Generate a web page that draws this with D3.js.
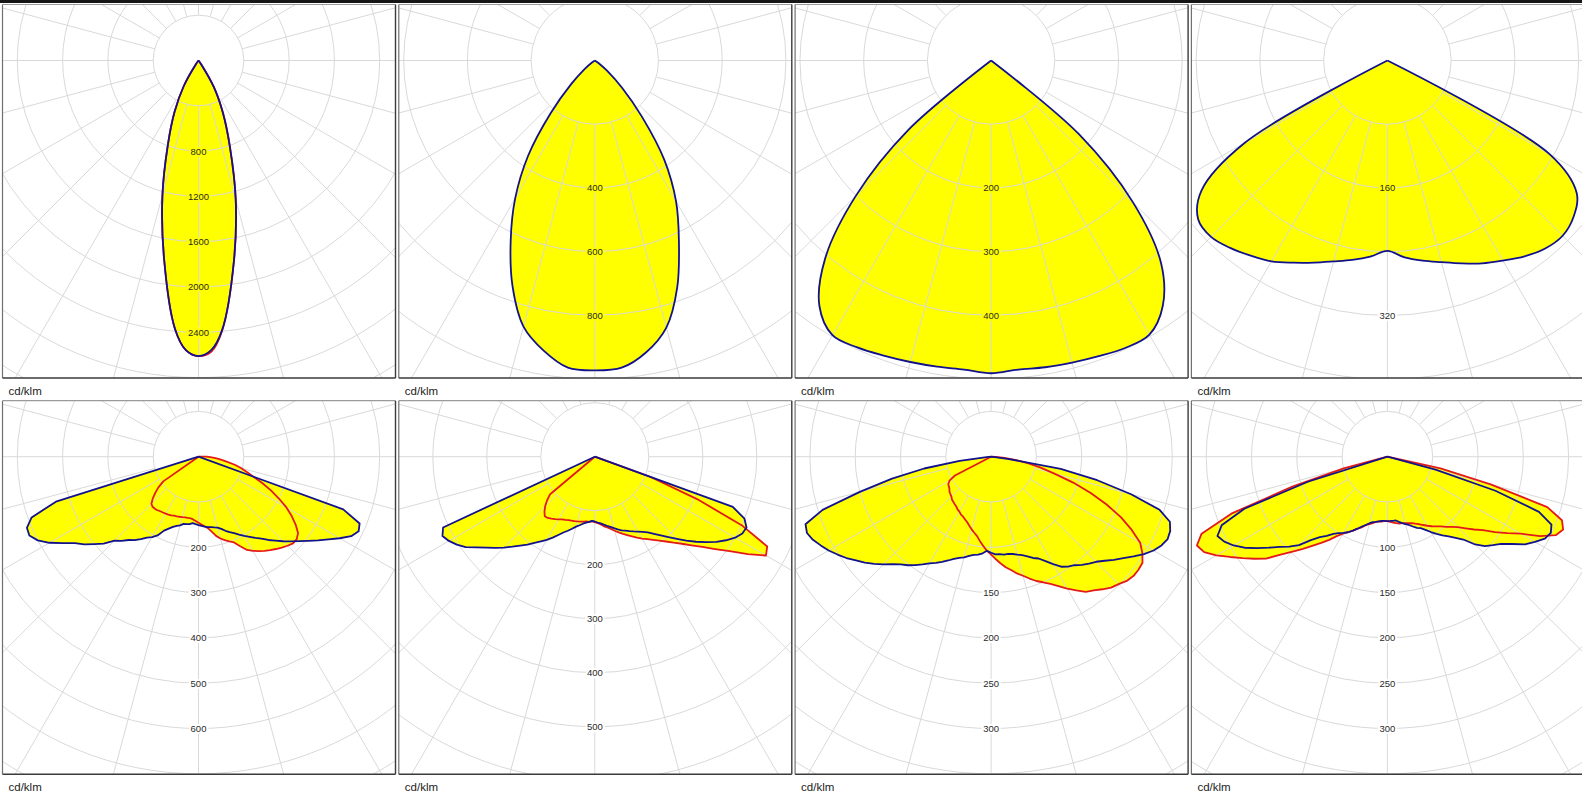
<!DOCTYPE html>
<html>
<head>
<meta charset="utf-8">
<script src="https://cdn.jsdelivr.net/npm/d3@7"></script>
<style>
  body { margin: 0; background: #fff; }
  svg { display: block; }
</style>
</head>
<body>
<svg id="chart" width="1582" height="794"></svg>
<script>
// Luminous intensity distributions, cd/klm, as [gamma angle in degrees, intensity].
// Negative gamma = C180 side (left half), positive = C0 side (right half).
// Blue = C0-C180 plane, red = C90-C270 plane.

// Panel 1 - narrow beam
const blue1 = [[-40,0],[-35,40],[-30,260],[-25,500],[-20,790],[-15,1230],[-10,1760],[-5,2380],[-2.5,2560],[0,2610],[2.5,2560],[5,2390],[10,1800],[15,1270],[20,810],[25,510],[30,270],[35,45],[40,0]];
const red1  = [[-40,0],[-35,40],[-30,260],[-25,500],[-20,790],[-15,1230],[-10,1760],[-5,2380],[-2.5,2560],[0,2610],[2.5,2575],[5,2395],[10,1800],[15,1270],[20,810],[25,510],[30,270],[35,45],[40,0]];
const rings1 = { step: 400, labels: [800, 1200, 1600, 2000, 2400] };

// Panel 2 - medium beam
const blue2 = [[-60,0],[-55,12],[-50,42],[-45,105],[-40,215],[-35,365],[-30,500],[-25,625],[-20,755],[-15,865],[-10,925],[-5,968],[0,973],[5,968],[10,930],[15,868],[20,757],[25,625],[30,510],[35,380],[40,230],[45,120],[50,50],[55,15],[60,0]];
const rings2 = { step: 200, labels: [400, 600, 800] };

// Panel 3 - wide beam
const blue3 = [[-55,0],[-50,170],[-45,300],[-40,405],[-35,470],[-30,498],[-25,497],[-20,493],[-15,490],[-10,488],[-5,487],[0,491],[5,487],[10,489],[15,491],[20,494],[25,498],[30,497],[35,470],[40,415],[45,315],[50,180],[55,0]];
const rings3 = { step: 100, labels: [200, 300, 400] };

// Panel 4 - batwing
const blue4 = [[-65,0],[-60,207],[-55,285],[-50,310],[-45,313],[-40,307],[-35,299],[-30,291],[-25,280],[-20,270],[-15,261],[-10,254],[-5,247],[0,239],[5,248],[10,255],[15,262],[20,271],[25,281],[30,290],[35,300],[40,308],[45,311],[50,305],[55,290],[60,235],[65,0]];
const rings4 = { step: 80, labels: [160, 320] };

// Panel 5 - street optic, asymmetric
const blue5 = [[-75,0],[-72.5,330],[-70,392],[-67.5,410],[-65,412],[-62.5,400],[-60,380],[-57.5,355],[-55,333],[-52.5,318],[-50,300],[-47.5,284],[-45,262],[-42.5,252],[-40,240],[-37.5,232],[-35,222],[-32.5,212],[-30,205],[-27.5,196],[-25,180],[-22.5,172],[-20,165],[-17.5,160],[-15,157],[-12.5,152],[-10,151],[-7.5,150],[-5,147],[-2.5,149],[0,151],[2.5,153],[5,155],[7.5,157],[10,158],[12.5,160],[15,162],[17.5,167],[20,174],[22.5,180],[25,186],[27.5,194],[30,202],[32.5,210],[35,219],[37.5,228],[40,240],[42.5,251],[45,264],[47.5,277],[50,290],[52.5,305],[55,322],[57.5,340],[60,360],[62.5,380],[65,390],[67.5,385],[70,340],[72.5,0]];
const red5 = [[-57.5,0],[-55,95],[-52.5,112],[-50,125],[-47.5,137],[-45,147],[-42.5,150],[-40,150],[-37.5,149],[-35,147],[-32.5,146],[-30,145],[-27.5,144],[-25,143],[-22.5,141],[-20,140],[-17.5,139],[-15,138],[-12.5,137],[-10,137],[-7.5,137],[-5,139],[-2.5,142],[0,146],[2.5,150],[5,154],[7.5,159],[10,168],[12.5,179],[15,187],[17.5,193],[20,199],[22.5,205],[25,218],[27.5,232],[30,240],[32.5,247],[35,254],[37.5,260],[40,266],[42.5,272],[45,278],[47.5,283],[50,283],[52.5,277],[55,262],[57.5,244],[60,224],[62.5,200],[65,177],[67.5,153],[70,129],[72.5,112],[75,97],[77.5,82],[80,63],[82.5,50],[85,38],[87.5,26],[90,18],[92.5,0]];
const rings5 = { step: 100, labels: [200, 300, 400, 500, 600] };

// Panel 6
const blue6 = [[-67.5,0],[-65,310],[-62.5,318],[-60,312],[-57.5,303],[-55,292],[-52.5,276],[-50,262],[-47.5,250],[-45,238],[-42.5,226],[-40,215],[-37.5,205],[-35,195],[-32.5,186],[-30,178],[-27.5,169],[-25,160],[-22.5,152],[-20,146],[-17.5,140],[-15,134],[-12.5,130],[-10,126],[-7.5,123],[-5,121],[-2.5,119],[0,120],[2.5,122],[5,124],[7.5,127],[10,130],[12.5,133],[15,137],[17.5,141],[20,145],[22.5,148],[25,152],[27.5,156],[30,160],[32.5,165],[35,171],[37.5,180],[40,190],[42.5,202],[45,215],[47.5,230],[50,245],[52.5,260],[55,275],[57.5,288],[60,300],[62.5,308],[65,310],[67.5,300],[70,272],[72.5,0]];
const red6 = [[-52.5,0],[-50,108],[-47.5,120],[-45,130],[-42.5,138],[-40,144],[-37.5,143],[-35,140],[-32.5,137],[-30,134],[-27.5,131],[-25,129],[-22.5,127],[-20,126],[-17.5,125],[-15,124],[-12.5,123],[-10,122],[-7.5,121],[-5,121],[-2.5,120],[0,121],[2.5,123],[5,126],[7.5,130],[10,133],[12.5,137],[15,142],[17.5,147],[20,152],[22.5,157],[25,163],[27.5,169],[30,175],[32.5,181],[35,188],[37.5,196],[40,205],[42.5,216],[45,228],[47.5,243],[50,260],[52.5,281],[55,305],[57.5,336],[60,366],[62.5,360],[65,300],[67.5,205],[70,110],[72.5,0]];
const rings6 = { step: 100, labels: [200, 300, 400, 500] };

// Panel 7
const blue7 = [[-87.5,0],[-85,5],[-82.5,35],[-80,75],[-77.5,112],[-75,150],[-72.5,195],[-70,218],[-67.5,220],[-65,217],[-62.5,212],[-60,207],[-57.5,201],[-55,195],[-52.5,188],[-50,182],[-47.5,175],[-45,168],[-42.5,161],[-40,155],[-37.5,151],[-35,146],[-32.5,141],[-30,136],[-27.5,132],[-25,128],[-22.5,124],[-20,120],[-17.5,117],[-15,115],[-12.5,112],[-10,110],[-7.5,109],[-5,107],[-2.5,104],[0,106],[2.5,108],[5,108],[7.5,109],[10,109],[12.5,110],[15,112],[17.5,114],[20,117],[22.5,121],[25,124],[27.5,130],[30,137],[32.5,144],[35,148],[37.5,151],[40,156],[42.5,160],[45,164],[47.5,170],[50,177],[52.5,184],[55,192],[57.5,200],[60,207],[62.5,212],[65,215],[67.5,214],[70,210],[72.5,195],[75,160],[77.5,120],[80,78],[82.5,20],[85,0]];
const red7 = [[-65,0],[-62.5,45],[-60,53],[-57.5,56],[-55,57],[-52.5,58],[-50,60],[-47.5,61],[-45,62],[-42.5,64],[-40,65],[-37.5,66],[-35,67],[-32.5,69],[-30,70],[-27.5,72],[-25,73],[-22.5,75],[-20,77],[-17.5,80],[-15,83],[-12.5,86],[-10,89],[-7.5,94],[-5,99],[-2.5,104],[0,108],[2.5,113],[5,118],[7.5,123],[10,127],[12.5,132],[15,136],[17.5,141],[20,146],[22.5,150],[25,155],[27.5,161],[30,168],[32.5,175],[35,182],[37.5,186],[40,191],[42.5,196],[45,199],[47.5,203],[50,205],[52.5,205],[55,204],[57.5,198],[60,190],[62.5,175],[65,158],[67.5,138],[70,117],[72.5,95],[75,73],[77.5,56],[80,42],[82.5,28],[85,15],[87.5,5],[90,0]];
const rings7 = { step: 50, labels: [150, 200, 250, 300] };

// Panel 8
const blue8 = [[-75,0],[-72.5,92],[-70,168],[-67.5,198],[-65,207],[-62.5,203],[-60,196],[-57.5,187],[-55,176],[-52.5,165],[-50,155],[-47.5,147],[-45,138],[-42.5,125],[-40,116],[-37.5,110],[-35,104],[-32.5,100],[-30,97],[-27.5,94],[-25,90],[-22.5,86],[-20,82],[-17.5,79],[-15,76],[-12.5,74],[-10,73],[-7.5,72],[-5,71],[-2.5,71],[0,71],[2.5,71],[5,71],[7.5,71],[10,73],[12.5,75],[15,77],[17.5,79],[20,82],[22.5,85],[25,87],[27.5,91],[30,96],[32.5,101],[35,106],[37.5,111],[40,117],[42.5,124],[45,137],[47.5,146],[50,152],[52.5,158],[55,168],[57.5,180],[60,188],[62.5,196],[65,199],[67.5,196],[70,178],[72.5,125],[75,55],[77.5,0]];
const red8 = [[-77.5,0],[-75,50],[-72.5,110],[-70,182],[-67.5,222],[-65,232],[-62.5,228],[-60,218],[-57.5,206],[-55,195],[-52.5,185],[-50,175],[-47.5,160],[-45,148],[-42.5,138],[-40,128],[-37.5,120],[-35,112],[-32.5,104],[-30,98],[-27.5,94],[-25,90],[-22.5,86],[-20,83],[-17.5,79],[-15,77],[-12.5,75],[-10,73],[-7.5,72],[-5,72],[-2.5,71],[0,71],[2.5,72],[5,73],[7.5,74],[10,75],[12.5,75],[15,76],[17.5,77],[20,78],[22.5,80],[25,82],[27.5,85],[30,88],[32.5,91],[35,94],[37.5,97],[40,101],[42.5,105],[45,110],[47.5,117],[50,125],[52.5,133],[55,145],[57.5,157],[60,170],[62.5,190],[65,205],[67.5,210],[70,205],[72.5,185],[75,118],[77.5,60],[80,0]];
const rings8 = { step: 50, labels: [100, 150, 200, 250, 300] };

const unitLabel = "cd/klm";

// ---- layout ----
const W = 1582, H = 794;
const panelLeft0 = 2.5, panelPitch = 396.3, panelW = 393, panelH = 373.5;
const rowTops = [4.5, 400.7];
const centerX = 196, centerY = 56;
const ringPx = [45.3, 63.7, 63.7, 63.75, 45.3, 54, 45.3, 45.3]; // pixels per ring step
const smoothRow = [true, false];                                  // top-row curves are drawn smooth

const panels = [
  { blue: blue1, red: red1, rings: rings1 },
  { blue: blue2, red: null, rings: rings2 },
  { blue: blue3, red: null, rings: rings3 },
  { blue: blue4, red: null, rings: rings4 },
  { blue: blue5, red: red5, rings: rings5 },
  { blue: blue6, red: red6, rings: rings6 },
  { blue: blue7, red: red7, rings: rings7 },
  { blue: blue8, red: red8, rings: rings8 }
];

const YELLOW = "#ffff00", BLUE = "#12128c", RED = "#e41a1a", GRID = "#d9d9d9";

const svg = d3.select("#chart");
svg.append("rect").attr("width", W).attr("height", H).attr("fill", "#fff");
svg.append("rect").attr("x", 0).attr("y", 0).attr("width", W).attr("height", 3).attr("fill", "#161616");

const defs = svg.append("defs");

panels.forEach((p, i) => {
  const col = i % 4, row = Math.floor(i / 4);
  const x0 = panelLeft0 + col * panelPitch, y0 = rowTops[row];
  const g = svg.append("g").attr("transform", `translate(${x0},${y0})`);

  defs.append("clipPath").attr("id", "clip" + i)
    .append("rect").attr("width", panelW).attr("height", panelH);

  const inner = g.append("g").attr("clip-path", `url(#clip${i})`);
  const c = inner.append("g").attr("transform", `translate(${centerX},${centerY})`);

  const r = d3.scaleLinear().domain([0, p.rings.step]).range([0, ringPx[i]]);
  const toXY = ([gam, v]) => {
    const a = gam * Math.PI / 180, rr = r(v);
    return [rr * Math.sin(a), rr * Math.cos(a)];
  };
  // open curve from the centre, round the distribution and back to the centre,
  // so the apex at the centre stays sharp
  const line = d3.line().curve(smoothRow[row] ? d3.curveCatmullRom.alpha(0.5) : d3.curveLinear);

  const curves = [];
  if (p.red) curves.push({ data: p.red, color: RED });
  curves.push({ data: p.blue, color: BLUE });
  curves.forEach(cv => {
    const pts = [[0, 0]];
    cv.data.map(toXY).forEach(q => {
      const last = pts[pts.length - 1];
      if (Math.hypot(q[0] - last[0], q[1] - last[1]) > 0.01) pts.push(q);
    });
    const last = pts[pts.length - 1];
    if (Math.hypot(last[0], last[1]) > 0.01) pts.push([0, 0]);
    cv.pts = pts;
  });

  // yellow fill (union of both planes)
  curves.forEach(cv => {
    c.append("path").attr("d", line(cv.pts) + "Z").attr("fill", YELLOW);
  });

  // polar grid
  const maxR = 470;
  const ringVals = d3.range(p.rings.step, r.invert(maxR), p.rings.step);
  c.selectAll("circle.ring").data(ringVals).join("circle")
    .attr("class", "ring")
    .attr("r", d => r(d))
    .attr("fill", "none").attr("stroke", GRID).attr("stroke-width", 1);

  const spokes = d3.range(0, 360, 15);
  const r0 = r(p.rings.step);
  c.selectAll("line.spoke").data(spokes).join("line")
    .attr("class", "spoke")
    .attr("x1", d => r0 * Math.sin(d * Math.PI / 180))
    .attr("y1", d => r0 * Math.cos(d * Math.PI / 180))
    .attr("x2", d => maxR * Math.sin(d * Math.PI / 180))
    .attr("y2", d => maxR * Math.cos(d * Math.PI / 180))
    .attr("stroke", GRID).attr("stroke-width", 1);

  // ring value labels along the nadir axis
  p.rings.labels.forEach(v => {
    const y = r(v);
    const inside = curves.some(cv => d3.polygonContains(cv.pts, [0, y]));
    c.append("text")
      .attr("x", 0).attr("y", y).attr("dy", "0.36em")
      .attr("text-anchor", "middle")
      .attr("font-family", "'Liberation Sans', Arial, sans-serif")
      .attr("font-size", 9.5)
      .attr("fill", "#2a2a2a")
      .attr("stroke", inside ? YELLOW : "#ffffff")
      .attr("stroke-width", 4)
      .attr("paint-order", "stroke")
      .text(v);
  });

  // outlines: red plane below, blue plane on top
  curves.forEach(cv => {
    c.append("path").attr("d", line(cv.pts))
      .attr("fill", "none").attr("stroke", cv.color)
      .attr("stroke-width", 1.8).attr("stroke-linejoin", "round");
  });

  // frame
  g.append("line").attr("x1", 0).attr("y1", 0).attr("x2", panelW).attr("y2", 0)
    .attr("stroke", "#9a9a9a").attr("stroke-width", 1.2);
  g.append("line").attr("x1", 0).attr("y1", 0).attr("x2", 0).attr("y2", panelH)
    .attr("stroke", "#707070").attr("stroke-width", 1.2);
  g.append("line").attr("x1", panelW).attr("y1", 0).attr("x2", panelW).attr("y2", panelH)
    .attr("stroke", "#3a3a3a").attr("stroke-width", 1.4);
  g.append("line").attr("x1", 0).attr("y1", panelH).attr("x2", panelW).attr("y2", panelH)
    .attr("stroke", "#3a3a3a").attr("stroke-width", 1.4);

  g.append("text")
    .attr("x", 6).attr("y", panelH + 16.5)
    .attr("font-family", "'Liberation Sans', Arial, sans-serif")
    .attr("font-size", 11.5)
    .attr("fill", "#222")
    .text(unitLabel);
});
</script>
</body>
</html>
